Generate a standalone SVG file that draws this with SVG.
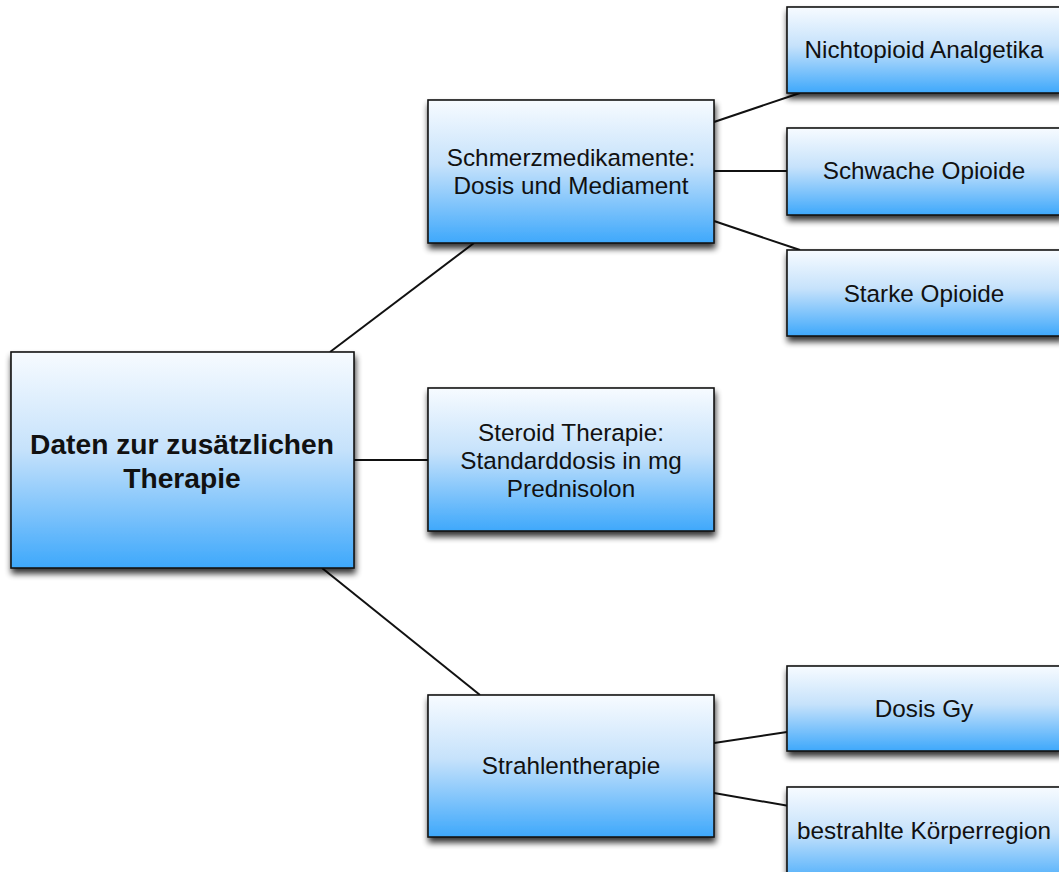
<svg xmlns="http://www.w3.org/2000/svg" width="1059" height="872" viewBox="0 0 1059 872">
  <defs>
    <linearGradient id="boxFill" x1="0" y1="0" x2="0" y2="1">
      <stop offset="0" stop-color="#f7fbff"/>
      <stop offset="0.45" stop-color="#c6e2fb"/>
      <stop offset="1" stop-color="#3ea8fb"/>
    </linearGradient>
    <filter id="shadow" x="-10%" y="-10%" width="125%" height="130%">
      <feGaussianBlur in="SourceAlpha" stdDeviation="3"/>
      <feOffset dx="1" dy="5" result="blur"/>
      <feComponentTransfer><feFuncA type="linear" slope="0.8"/></feComponentTransfer>
      <feMerge><feMergeNode/><feMergeNode in="SourceGraphic"/></feMerge>
    </filter>
  </defs>
  <style>
    .box { fill: url(#boxFill); stroke: #141414; stroke-width: 1.6; filter: url(#shadow); }
    .edge { stroke: #111; stroke-width: 2; fill: none; }
    text { font-family: "Liberation Sans", Arial, sans-serif; font-size: 24.3px; fill: #111; text-anchor: middle; }
    .root { font-size: 28.2px; font-weight: bold; }
  </style>
  <rect width="1059" height="872" fill="#ffffff"/>

  <g id="connectors">
    <line class="edge" x1="330" y1="352" x2="474" y2="243"/>
    <line class="edge" x1="354" y1="460" x2="428" y2="460"/>
    <line class="edge" x1="322" y1="568" x2="480" y2="695"/>
    <line class="edge" x1="714" y1="122" x2="800" y2="93"/>
    <line class="edge" x1="714" y1="171" x2="787" y2="171"/>
    <line class="edge" x1="714" y1="221" x2="800" y2="250"/>
    <line class="edge" x1="714" y1="743" x2="787" y2="732"/>
    <line class="edge" x1="714" y1="793" x2="795" y2="807"/>
  </g>

  <g id="root-node">
    <rect class="box" x="11" y="352" width="343" height="216"/>
    <text class="root" x="182" y="454">Daten zur zusätzlichen</text>
    <text class="root" x="182" y="488">Therapie</text>
  </g>

  <g id="schmerzmedikamente">
    <rect class="box" x="428" y="100" width="286" height="143"/>
    <text x="571" y="166">Schmerzmedikamente:</text>
    <text x="571" y="194">Dosis und Mediament</text>
  </g>

  <g id="steroid">
    <rect class="box" x="428" y="388" width="286" height="143"/>
    <text x="571" y="441">Steroid Therapie:</text>
    <text x="571" y="469">Standarddosis in mg</text>
    <text x="571" y="497">Prednisolon</text>
  </g>

  <g id="strahlentherapie">
    <rect class="box" x="428" y="695" width="286" height="142"/>
    <text x="571" y="774">Strahlentherapie</text>
  </g>

  <g id="nichtopioid">
    <rect class="box" x="787" y="7" width="275" height="86"/>
    <text x="924" y="58">Nichtopioid Analgetika</text>
  </g>

  <g id="schwache-opioide">
    <rect class="box" x="787" y="128" width="275" height="87"/>
    <text x="924" y="179">Schwache Opioide</text>
  </g>

  <g id="starke-opioide">
    <rect class="box" x="787" y="250" width="275" height="86"/>
    <text x="924" y="302">Starke Opioide</text>
  </g>

  <g id="dosis-gy">
    <rect class="box" x="787" y="666" width="275" height="85"/>
    <text x="924" y="717">Dosis Gy</text>
  </g>

  <g id="koerperregion">
    <rect class="box" x="787" y="787" width="275" height="100"/>
    <text x="924" y="839">bestrahlte Körperregion</text>
  </g>
</svg>
